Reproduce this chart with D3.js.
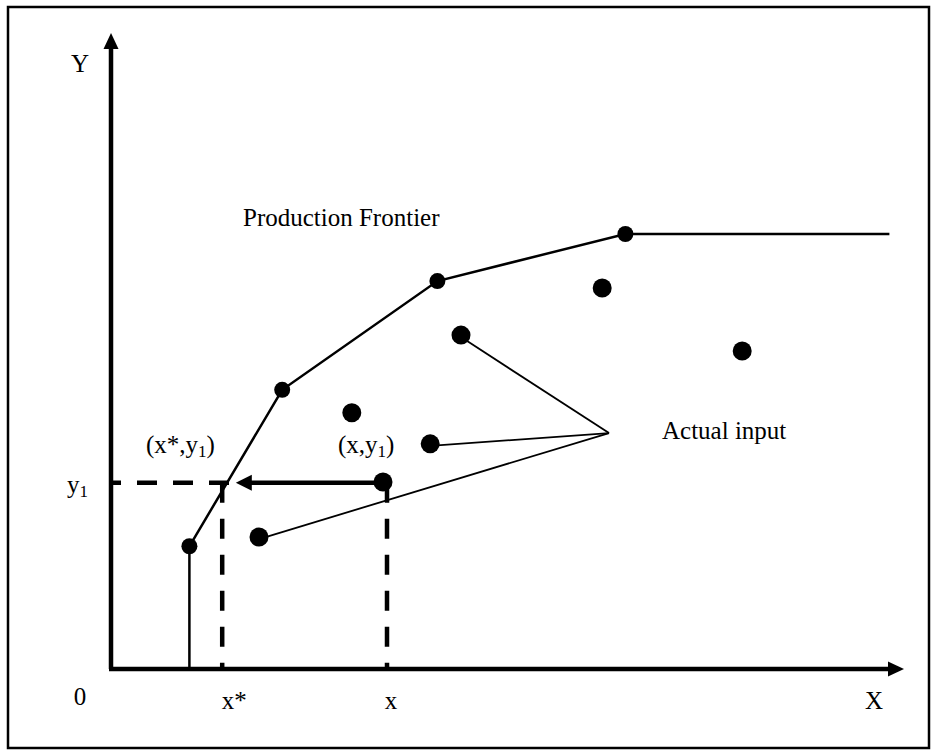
<!DOCTYPE html>
<html>
<head>
<meta charset="utf-8">
<script src="https://cdn.jsdelivr.net/npm/d3@7"></script>
<style>
  body { margin: 0; background: #fff; }
  text { font-family: "Liberation Serif", "Times New Roman", serif; font-size: 25px; fill: #000; }
</style>
</head>
<body>
<div id="root"></div>
<script>
// data units: both axes run 0..100
const frontierX = [9.8, 21.4, 40.8, 64.3];
const frontierY = [19.3, 43.9, 61.0, 68.4];
const frontierEndX = 97.3;

const pointsX = [30.1, 39.9, 43.75, 61.4, 78.9, 18.5, 34.0];
const pointsY = [40.3, 35.4, 52.5, 59.9, 50.0, 20.75, 29.4];

// which points the "Actual input" pointer lines go to
const pointerTargets = [2, 1, 5];
const pointerHub = [62.25, 37.1];

const xStar = 13.9;
const xVal = 34.5;
const y1 = 29.3;
const arrowTipX = 15.6;

const tickLabels = ["0", "x*", "x", "X"];

const width = 935, height = 753;

const svg = d3.select("#root").append("svg")
    .attr("width", width)
    .attr("height", height);

const x = d3.scaleLinear().domain([0, 100]).range([111, 911]);
const y = d3.scaleLinear().domain([0, 100]).range([669, 33]);

// outer frame
svg.append("rect")
    .attr("x", 8).attr("y", 7)
    .attr("width", 921).attr("height", 741)
    .attr("fill", "none")
    .attr("stroke", "#000")
    .attr("stroke-width", 2.5);

// axes with arrow heads
svg.append("line")
    .attr("x1", x(0)).attr("y1", y(0))
    .attr("x2", x(0)).attr("y2", y(100) + 14)
    .attr("stroke", "#000").attr("stroke-width", 4.5);
svg.append("path")
    .attr("d", `M${x(0)},${y(100)} L${x(0) - 7.5},${y(100) + 16} L${x(0) + 7.5},${y(100) + 16}Z`)
    .attr("fill", "#000");

svg.append("line")
    .attr("x1", x(0) - 2).attr("y1", y(0))
    .attr("x2", 890).attr("y2", y(0))
    .attr("stroke", "#000").attr("stroke-width", 4.5);
svg.append("path")
    .attr("d", `M904,${y(0)} L888,${y(0) - 7.5} L888,${y(0) + 7.5}Z`)
    .attr("fill", "#000");

// dashed projection lines
const dash = "20,16";
svg.append("line")
    .attr("x1", x(0)).attr("y1", y(y1))
    .attr("x2", x(xStar) + 7).attr("y2", y(y1))
    .attr("stroke", "#000").attr("stroke-width", 4.5)
    .attr("stroke-dasharray", dash)
    .attr("stroke-dashoffset", 10);
svg.append("line")
    .attr("x1", x(xStar)).attr("y1", y(y1))
    .attr("x2", x(xStar)).attr("y2", y(0))
    .attr("stroke", "#000").attr("stroke-width", 4.5)
    .attr("stroke-dasharray", dash);
svg.append("line")
    .attr("x1", x(xVal)).attr("y1", y(y1))
    .attr("x2", x(xVal)).attr("y2", y(0))
    .attr("stroke", "#000").attr("stroke-width", 4.5)
    .attr("stroke-dasharray", dash);

// frontier
const frontier = frontierX.map((d, i) => [d, frontierY[i]]);
const line = d3.line().x(d => x(d[0])).y(d => y(d[1]));
svg.append("path")
    .attr("d", line([[frontierX[0], 0], ...frontier, [frontierEndX, frontierY[frontierY.length - 1]]]))
    .attr("fill", "none")
    .attr("stroke", "#000")
    .attr("stroke-width", 2.5);

svg.selectAll(".fdot")
    .data(frontier)
    .enter()
    .append("circle")
    .attr("class", "fdot")
    .attr("cx", d => x(d[0]))
    .attr("cy", d => y(d[1]))
    .attr("r", 8);

// pointer lines from "Actual input"
svg.selectAll(".pointer")
    .data(pointerTargets)
    .enter()
    .append("line")
    .attr("class", "pointer")
    .attr("x1", x(pointerHub[0])).attr("y1", y(pointerHub[1]))
    .attr("x2", d => x(pointsX[d]))
    .attr("y2", d => y(pointsY[d]) + 2)
    .attr("stroke", "#000")
    .attr("stroke-width", 1.8);

// horizontal arrow from (x,y1) to the frontier
const pIdx = 6;
svg.append("line")
    .attr("x1", x(pointsX[pIdx])).attr("y1", y(y1))
    .attr("x2", x(arrowTipX) + 12).attr("y2", y(y1))
    .attr("stroke", "#000").attr("stroke-width", 4.5);
svg.append("path")
    .attr("d", `M${x(arrowTipX)},${y(y1)} L${x(arrowTipX) + 16},${y(y1) - 8} L${x(arrowTipX) + 16},${y(y1) + 8}Z`)
    .attr("fill", "#000");

// actual (inefficient) points
svg.selectAll(".pdot")
    .data(pointsX)
    .enter()
    .append("circle")
    .attr("class", "pdot")
    .attr("cx", d => x(d))
    .attr("cy", (d, i) => y(pointsY[i]))
    .attr("r", 9.5);

// labels
svg.append("text").attr("x", 80).attr("y", 72).attr("text-anchor", "middle").text("Y");

const tickPos = [[80, 705], [x(xStar) + 12, 709], [x(xVal) + 4, 709], [874, 709]];
svg.selectAll(".tick")
    .data(tickLabels)
    .enter()
    .append("text")
    .attr("class", "tick")
    .attr("x", (d, i) => tickPos[i][0])
    .attr("y", (d, i) => tickPos[i][1])
    .attr("text-anchor", "middle")
    .text(d => d);

function subLabel(px, py, parts) {
    const t = svg.append("text").attr("x", px).attr("y", py);
    parts.forEach(p => {
        const s = t.append("tspan").text(p.t);
        if (p.sub) s.attr("font-size", "17px").attr("dy", 4);
        else if (p.back) s.attr("dy", -4);
    });
}
subLabel(67, 493, [{t: "y"}, {t: "1", sub: true}]);
subLabel(146, 453, [{t: "(x*,y"}, {t: "1", sub: true}, {t: ")", back: true}]);
subLabel(338, 453, [{t: "(x,y"}, {t: "1", sub: true}, {t: ")", back: true}]);

svg.append("text").attr("x", 243).attr("y", 226).text("Production Frontier");
svg.append("text").attr("x", 662).attr("y", 439).text("Actual input");
</script>
</body>
</html>
